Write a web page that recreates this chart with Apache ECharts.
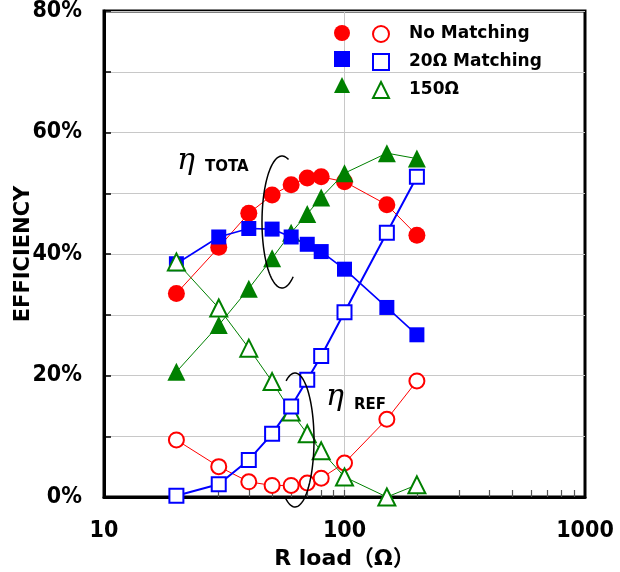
<!DOCTYPE html>
<html>
<head>
<meta charset="utf-8">
<script src="https://cdn.jsdelivr.net/npm/echarts@6/dist/echarts.min.js"></script>
<style>
html,body{margin:0;padding:0;background:#fff;}
#chart{width:620px;height:572px;}
</style>
</head>
<body>
<div id="chart"></div>
<script>
// ---- data ----
var rLoad = [20, 30, 40, 50, 60, 70, 80, 100, 150, 200];
var noMatchTotal = [33.5, 41.1, 46.7, 49.7, 51.4, 52.5, 52.7, 51.9, 48.1, 43.1];
var match20Total = [38.4, 42.8, 44.2, 44.1, 42.8, 41.6, 40.4, 37.5, 31.2, 26.7];
var match150Total = [20.6, 28.3, 34.3, 39.3, 43.5, 46.6, 49.3, 53.3, 56.6, 55.7];
var noMatchRef = [9.4, 5.0, 2.5, 1.9, 1.9, 2.3, 3.1, 5.6, 12.8, 19.1];
var match20Ref = [0.2, 2.1, 6.1, 10.4, 14.9, 19.3, 23.2, 30.4, 43.5, 52.7];
var match150Ref = [38.7, 31.1, 24.5, 19.0, 14.0, 10.4, 7.6, 3.3, 0.0, 2.0];
var legendLabels = ['No Matching', '20Ω Matching', '150Ω'];
var xMinorTicks = [20, 30, 40, 50, 60, 70, 80, 90, 100, 200, 300, 400, 500, 600, 700, 800, 900];
var xTickLabels = [10, 100, 1000];
var xGridLines = [100];
var yTickLabels = [0, 20, 40, 60, 80];

function pairs(ys) { return rLoad.map(function (x, i) { return [x, ys[i]]; }); }

var RED = '#ff0000', BLUE = '#0000ff', GREEN = '#008000';

function filled(name, data, symbol, size, color, lw) {
  return {
    name: name, type: 'line', data: pairs(data), symbol: symbol, symbolSize: size,
    itemStyle: { color: color }, lineStyle: { color: color, width: lw },
    emphasis: { disabled: true }, animation: false, clip: false
  };
}
function open(name, data, symbol, size, color, lw) {
  return {
    name: name, type: 'line', data: pairs(data), symbol: symbol, symbolSize: size,
    itemStyle: { color: '#fff', borderColor: color, borderWidth: 2 }, lineStyle: { color: color, width: lw },
    emphasis: { disabled: true }, animation: false, clip: false
  };
}

function ellipsePts(cx, cy, rx, ry, a0, a1) {
  var pts = [], n = 80;
  for (var i = 0; i <= n; i++) {
    var t = (a0 + (a1 - a0) * i / n) * Math.PI / 180;
    pts.push([cx + rx * Math.cos(t), cy + ry * Math.sin(t)]);
  }
  return pts;
}

var series = [
  filled('nmT', noMatchTotal, 'circle', 17, RED, 1),
  filled('m150T', match150Total, 'triangle', 18, GREEN, 1),
  filled('m20T', match20Total, 'rect', 15, BLUE, 1.6),
  open('nmR', noMatchRef, 'circle', 15, RED, 1),
  open('m150R', match150Ref, 'triangle', 17, GREEN, 1),
  open('m20R', match20Ref, 'rect', 14, BLUE, 2)
];
// vertical grid line at 100 only
series[0].markLine = {
  silent: true, symbol: 'none', label: { show: false }, animation: false, z: 0,
  lineStyle: { color: '#c8c8c8', width: 1, type: 'solid' },
  data: xGridLines.map(function (v) { return { xAxis: v }; })
};

var chart = echarts.init(document.getElementById('chart'), null, { renderer: 'canvas' });
var labelFont = 'DejaVu Sans Condensed, DejaVu Sans, sans-serif';
var option = {
  animation: false,
  backgroundColor: '#fff',
  grid: { left: 104, right: 35, top: 11, bottom: 75, outerBoundsMode: 'none', containLabel: false, show: true, borderColor: '#000', borderWidth: 3, backgroundColor: 'transparent' },
  xAxis: {
    type: 'log', logBase: 10, min: 10, max: 1000,
    name: 'R load（Ω）', nameLocation: 'middle', nameGap: 47,
    nameTextStyle: { fontSize: 22, fontWeight: 'bold', color: '#000', fontFamily: 'DejaVu Sans, Noto Sans CJK JP, sans-serif' },
    axisLine: { show: true, lineStyle: { color: '#000', width: 3 } },
    axisTick: { show: true, inside: true, length: 7, customValues: xMinorTicks, lineStyle: { color: '#555', width: 1.2 } },
    minorTick: { show: false },
    axisLabel: {
      color: '#000', fontSize: 23, fontWeight: 'bold', margin: 23, fontFamily: labelFont,
      customValues: xTickLabels,
      formatter: function (v) { return String(Math.round(v)); }
    },
    splitLine: { show: false }
  },
  yAxis: {
    type: 'value', min: 0, max: 80, interval: 10,
    name: 'EFFICIENCY', nameLocation: 'middle', nameGap: 70, nameRotate: 90, nameMoveOverlap: false,
    nameTextStyle: { fontSize: 21, fontWeight: 'bold', color: '#000', fontFamily: 'DejaVu Sans, sans-serif' },
    axisLine: { show: true, lineStyle: { color: '#000', width: 3 } },
    axisTick: { show: true, inside: true, length: 7, lineStyle: { color: '#000', width: 1.5 } },
    axisLabel: {
      color: '#000', fontSize: 23, fontWeight: 'bold', margin: 22, fontFamily: labelFont,
      formatter: function (v) { return yTickLabels.indexOf(v) >= 0 ? v + '%' : ''; }
    },
    splitLine: { show: true, lineStyle: { color: '#c8c8c8', width: 1 } }
  },
  legend: [
    {
      orient: 'vertical', left: 329, top: 20, itemWidth: 16, itemHeight: 16, itemGap: 10,
      selectedMode: false, formatter: function () { return ''; },
      data: [
        { name: 'nmT', icon: 'circle' },
        { name: 'm20T', icon: 'rect' },
        { name: 'm150T', icon: 'triangle' }
      ]
    },
    {
      orient: 'vertical', left: 367, top: 20, itemWidth: 16, itemHeight: 16, itemGap: 10,
      selectedMode: false,
      formatter: function (n) { return { nmR: legendLabels[0], m20R: legendLabels[1], m150R: legendLabels[2] }[n]; },
      textStyle: { fontSize: 17, fontWeight: 'bold', color: '#000', padding: [0, 0, 0, 15], fontFamily: 'DejaVu Sans, sans-serif' },
      data: [
        { name: 'nmR', icon: 'circle', itemStyle: { color: '#fff', borderColor: RED, borderWidth: 2 } },
        { name: 'm20R', icon: 'rect', itemStyle: { color: '#fff', borderColor: BLUE, borderWidth: 2 } },
        { name: 'm150R', icon: 'triangle', itemStyle: { color: '#fff', borderColor: GREEN, borderWidth: 2 } }
      ]
    }
  ],
  series: series,
  graphic: [
    { type: 'polyline', silent: true, z: 100, shape: { points: ellipsePts(282, 222, 20, 66, -71, -304) }, style: { stroke: '#000', lineWidth: 1.5, fill: null } },
    { type: 'polyline', silent: true, z: 100, shape: { points: ellipsePts(295, 440, 19, 67, -118, 119) }, style: { stroke: '#000', lineWidth: 1.5, fill: null } },
    { type: 'text', silent: true, z: 100, left: 177, top: 146, style: { text: 'η', fontSize: 30, fontStyle: 'italic', fontFamily: 'DejaVu Serif, serif', fill: '#000' } },
    { type: 'text', silent: true, z: 100, left: 205, top: 160, style: { text: 'TOTA', fontSize: 15, fontWeight: 'bold', fontFamily: 'DejaVu Sans, sans-serif', fill: '#000' } },
    { type: 'text', silent: true, z: 100, left: 326, top: 382, style: { text: 'η', fontSize: 30, fontStyle: 'italic', fontFamily: 'DejaVu Serif, serif', fill: '#000' } },
    { type: 'text', silent: true, z: 100, left: 354, top: 398, style: { text: 'REF', fontSize: 15, fontWeight: 'bold', fontFamily: 'DejaVu Sans, sans-serif', fill: '#000' } }
  ]
};
chart.setOption(option);
</script>
</body>
</html>
